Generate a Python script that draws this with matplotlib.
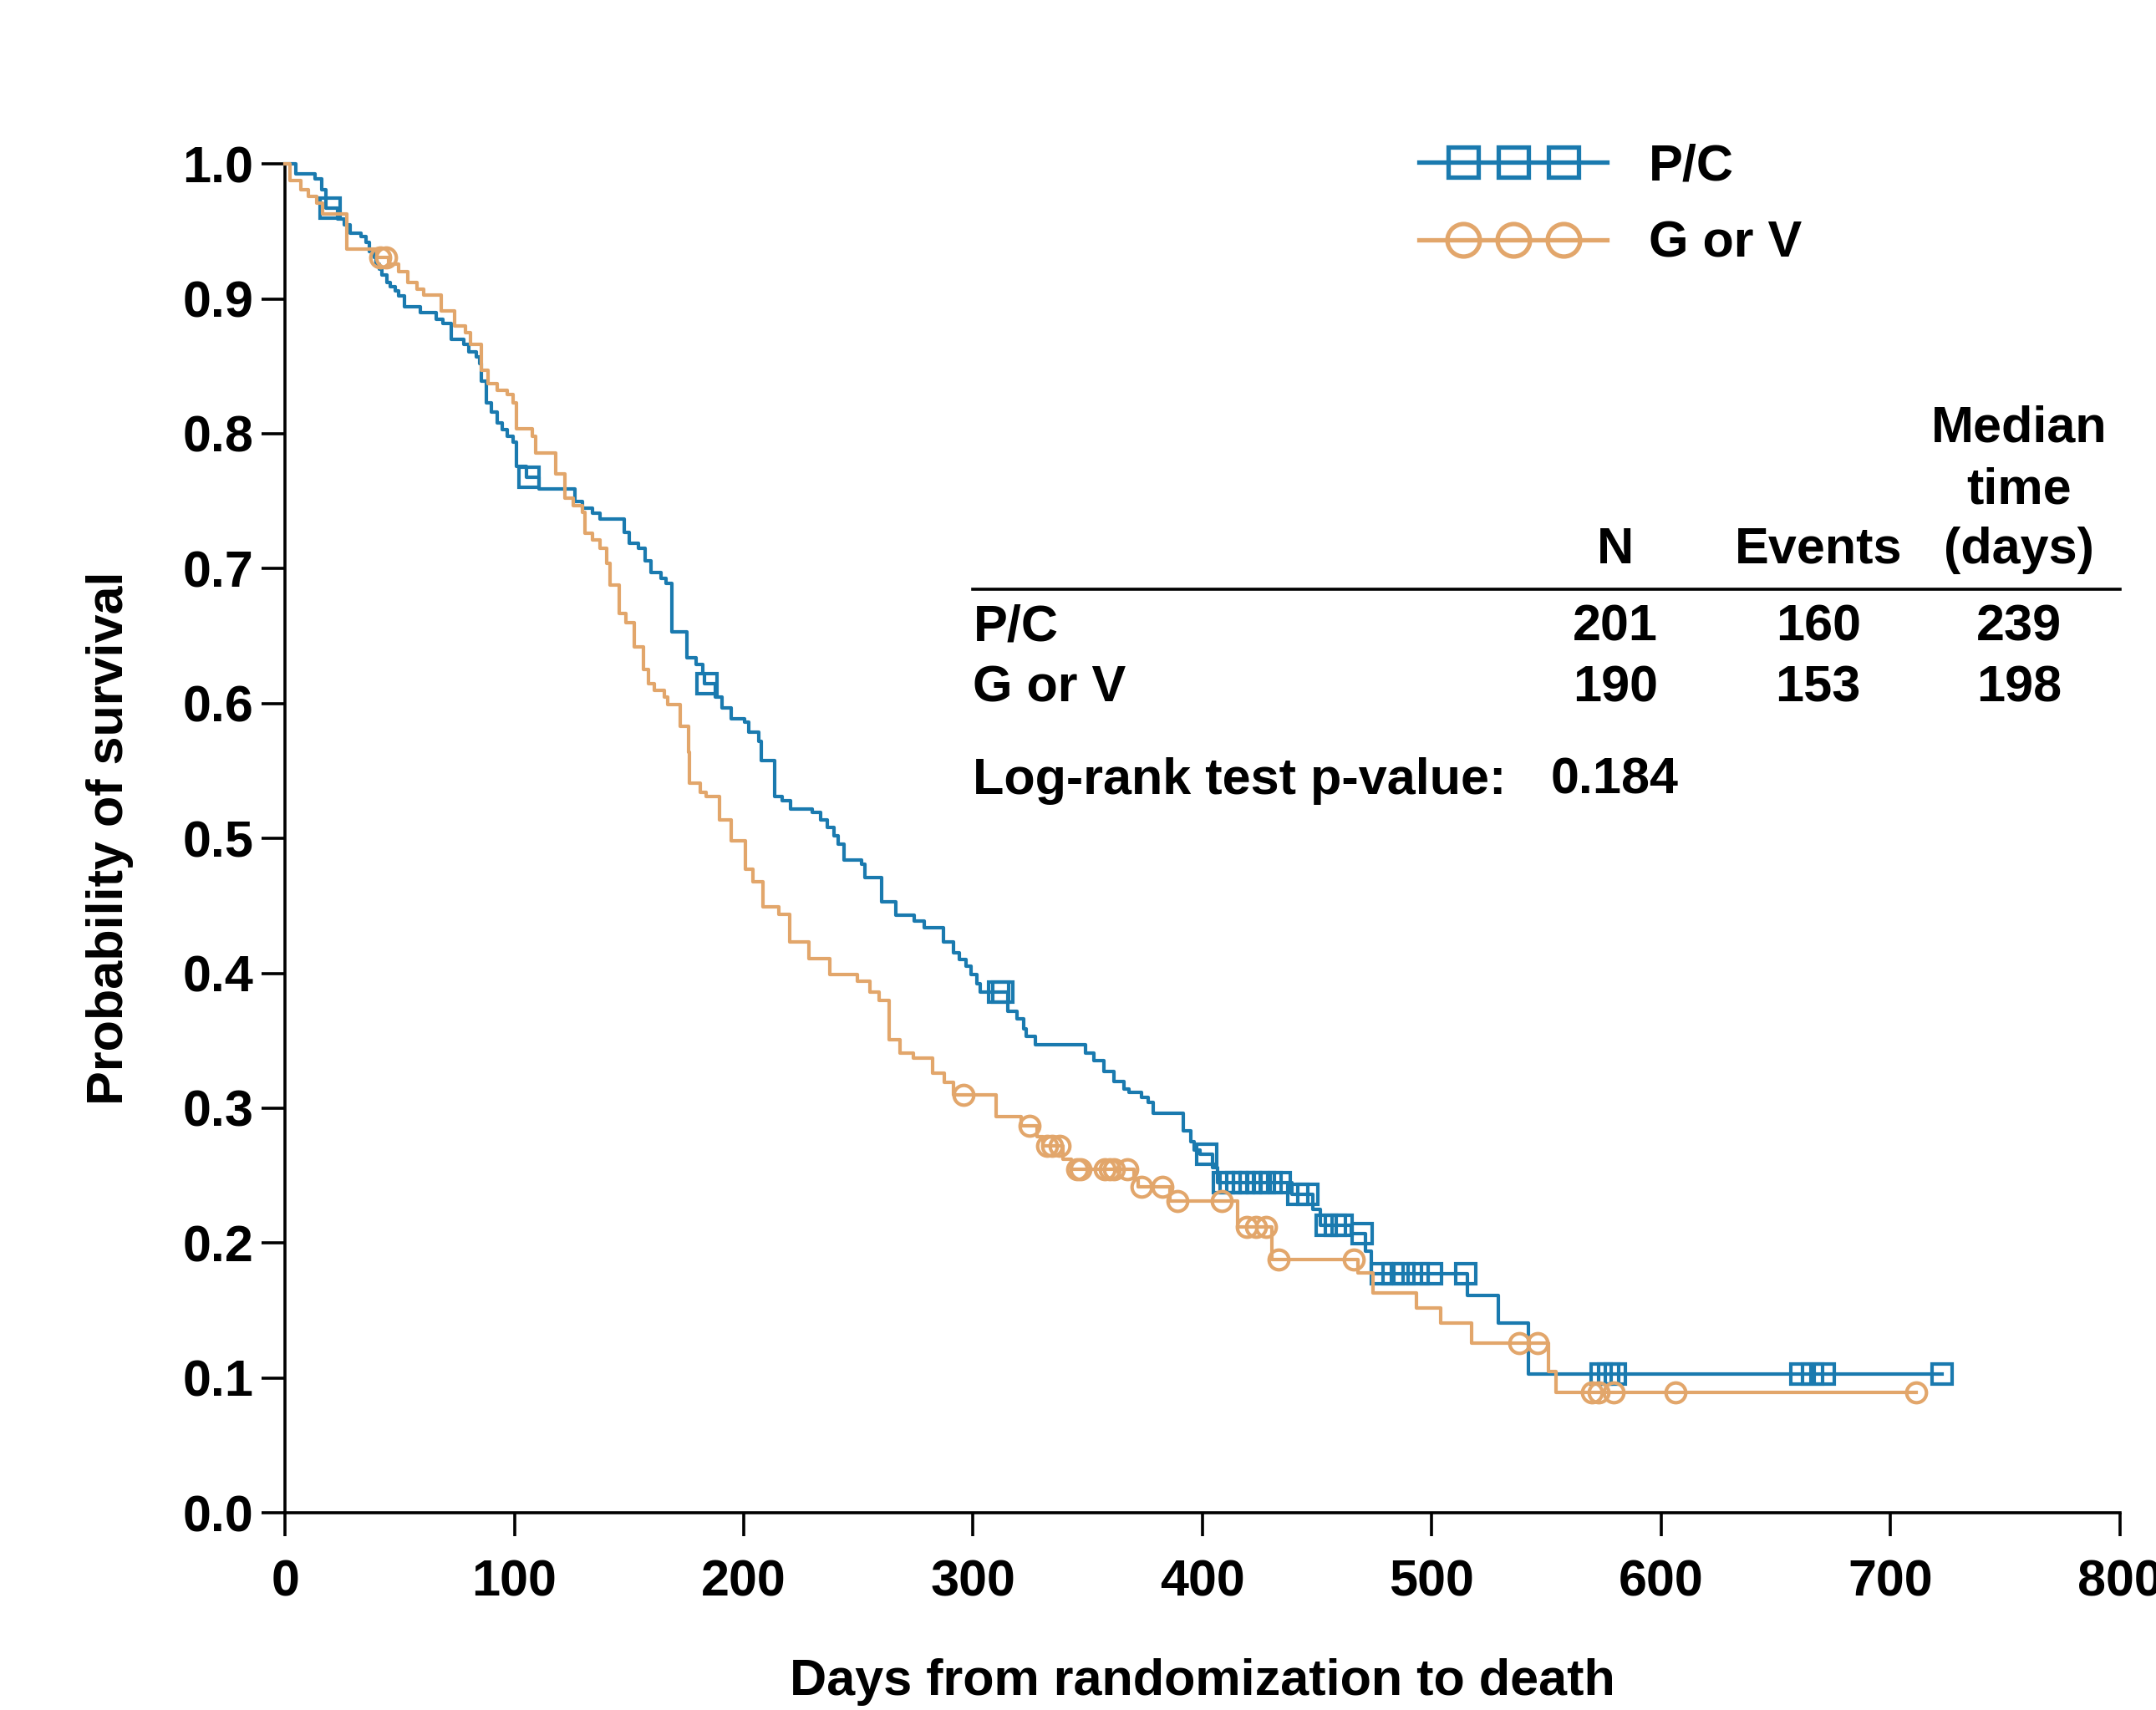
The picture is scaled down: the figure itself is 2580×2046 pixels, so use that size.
import numpy as np
import matplotlib
matplotlib.use('Agg')
import matplotlib.pyplot as plt
from matplotlib.lines import Line2D
from matplotlib.legend_handler import HandlerLine2D, HandlerTuple

plt.rcParams['font.family'] = ['Liberation Sans', 'DejaVu Sans']
plt.rcParams['font.weight'] = 'bold'

# Kaplan-Meier steps (days, survival)
pc_t = [0, 4.7, 13.1, 16, 18, 23, 25.7, 28.5, 33.3, 35.4, 36.8, 38.9, 39.6, 41, 42.4,
        44.5, 45.9, 48, 49.4, 52.2, 59.1, 66.1, 68.9, 72.4, 77.9, 80, 83.5, 84.9, 85.6,
        87.7, 89.8, 92.6, 94.7, 96.8, 99.6, 101, 105.2, 110.7, 126.5, 129.8, 134, 137.4,
        148, 150, 154.2, 157, 159.7, 163.9, 166, 168.5, 175.1, 179.3, 182.1, 183, 187.6,
        190.4, 194.6, 200.2, 202.3, 206.4, 207.8, 213.6, 216.9, 220.5, 230, 233.6, 236.4,
        239.5, 241.1, 243.9, 251.5, 253, 260, 266.2, 274.5, 278.7, 287.1, 291.3, 294.1,
        296.9, 299, 301.7, 303, 315, 319.2, 322, 323.3, 327, 349, 352.6, 357, 361.5,
        365.7, 368, 373.5, 376.3, 378.5, 391.5, 395, 396.4, 399, 404.6, 406.5, 439, 448,
        451.3, 465, 471, 473.6, 515.5, 529.2, 542, 722.5]
pc_s = [1.0, 0.993, 0.989, 0.981, 0.967, 0.959, 0.955, 0.949, 0.946, 0.942, 0.935, 0.931,
        0.926, 0.922, 0.918, 0.912, 0.909, 0.906, 0.902, 0.894, 0.890, 0.885, 0.882, 0.870,
        0.866, 0.861, 0.857, 0.852, 0.839, 0.823, 0.816, 0.808, 0.803, 0.798, 0.794, 0.776,
        0.768, 0.759, 0.750, 0.745, 0.741, 0.737, 0.727, 0.719, 0.715, 0.706, 0.697, 0.693,
        0.689, 0.653, 0.634, 0.629, 0.622, 0.615, 0.605, 0.597, 0.589, 0.586, 0.579, 0.572,
        0.558, 0.531, 0.528, 0.522, 0.519, 0.514, 0.508, 0.502, 0.496, 0.484, 0.481, 0.471,
        0.453, 0.443, 0.439, 0.434, 0.423, 0.415, 0.410, 0.405, 0.399, 0.392, 0.386, 0.372,
        0.366, 0.359, 0.353, 0.347, 0.341, 0.335, 0.327, 0.320, 0.314, 0.312, 0.308, 0.304,
        0.296, 0.283, 0.275, 0.269, 0.266, 0.256, 0.245, 0.236, 0.225, 0.213, 0.207, 0.194,
        0.177, 0.161, 0.141, 0.103, 0.103]
pc_cens = [19.5, 106.5, 184, 311, 313, 402, 409, 412, 415, 418, 421, 424, 427, 430, 434,
           441.5, 446, 454, 458, 461, 469.5, 478, 483, 488, 494, 500, 515, 574, 577, 580,
           661, 666, 671, 722.5]

gv_t = [0, 2, 6.8, 10.3, 13.8, 16.5, 27, 40, 45, 49.4, 53.6, 57.7, 60.5, 68.2, 73.8, 78.7,
        81, 85.6, 88.4, 92.6, 96.8, 99.6, 101, 108, 109.3, 117.9, 122, 125.6, 129.8, 130.8,
        134, 137.4, 140.2, 141.6, 145.8, 148.6, 152.1, 156.3, 158.4, 161.1, 165.3, 166.7,
        172.3, 175.8, 176.5, 180.9, 183.5, 189.6, 194.4, 200.7, 204.1, 208.3, 215.3, 220.2,
        228.5, 237.6, 249.5, 255, 259.2, 263.4, 268.3, 273.8, 282.2, 287.4, 291.5, 310, 321,
        328, 330.5, 339.2, 343, 370, 372, 386, 415.5, 430.4, 468, 474.3, 493.5, 503.9,
        517.5, 551, 554, 711.1]
gv_s = [1.0, 0.988, 0.981, 0.976, 0.971, 0.963, 0.937, 0.931, 0.926, 0.920, 0.912, 0.907,
        0.903, 0.891, 0.880, 0.875, 0.866, 0.847, 0.837, 0.832, 0.829, 0.823, 0.804, 0.798,
        0.786, 0.770, 0.752, 0.747, 0.742, 0.726, 0.721, 0.715, 0.704, 0.688, 0.667, 0.660,
        0.642, 0.625, 0.615, 0.610, 0.605, 0.599, 0.583, 0.564, 0.541, 0.534, 0.531, 0.514,
        0.498, 0.477, 0.468, 0.449, 0.444, 0.423, 0.411, 0.399, 0.394, 0.386, 0.380, 0.351,
        0.341, 0.337, 0.326, 0.319, 0.310, 0.294, 0.287, 0.279, 0.272, 0.262, 0.255, 0.248,
        0.242, 0.231, 0.212, 0.188, 0.178, 0.163, 0.152, 0.141, 0.126, 0.105, 0.089, 0.089]
gv_cens = [41.5, 44, 296, 324.6, 332.3, 334.5, 337.8, 345.5, 347, 357.4, 359.5, 361.4,
           367.1, 373.5, 382.5, 389, 408.5, 419.3, 423.4, 427.6, 433.2, 466, 538, 546,
           569.7, 572.7, 579.5, 606.2, 711.1]

groups = ['P/C', 'G or V']
n_pat = [201, 190]
n_events = [160, 153]
median_days = [239, 198]
p_value = '0.184'

blue = '#1a7aaf'
orange = '#e2a66b'


def cens_y(t, s, c):
    t = np.asarray(t)
    s = np.asarray(s)
    return s[np.searchsorted(t, c, side='right') - 1]


fig = plt.figure(figsize=(12.9, 10.23), dpi=200)
ax = fig.add_axes([0.1322, 0.1153, 0.851, 0.7888])

for t, s, cens, col, mk, ms in [(pc_t, pc_s, pc_cens, blue, 's', 8.3),
                                 (gv_t, gv_s, gv_cens, orange, 'o', 8.5)]:
    ax.step(t, s, where='post', color=col, lw=1.5, clip_on=False, zorder=3)
    ax.plot(cens, cens_y(t, s, cens), ls='none', marker=mk, ms=ms, mfc='none',
            mec=col, mew=1.5, clip_on=False, zorder=3)

ax.set_xlim(0, 800)
ax.set_ylim(0, 1.0)
ax.set_xticks(np.arange(0, 801, 100))
ax.set_yticks(np.arange(0, 1.01, 0.1))
ax.set_yticklabels([f'{v:.1f}' for v in np.arange(0, 1.01, 0.1)])
for side in ['top', 'right']:
    ax.spines[side].set_visible(False)
for side in ['left', 'bottom']:
    ax.spines[side].set_linewidth(1.3)
ax.tick_params(axis='both', length=10, width=1.3, labelsize=22)
ax.tick_params(axis='x', pad=10)
ax.tick_params(axis='y', pad=3.5)
ax.set_xlabel('Days from randomization to death', fontsize=22, fontweight='bold', labelpad=22)
ax.set_ylabel('Probability of survival', fontsize=22, fontweight='bold', labelpad=21)

# legend: full-width line with three hollow markers on it
handles = []
hmap = {}
for col, mk, ms in [(blue, 's', 13), (orange, 'o', 14)]:
    ln = Line2D([], [], color=col, lw=1.9)
    mks = Line2D([], [], ls='none', marker=mk, ms=ms, mfc='none', mec=col, mew=1.9)
    hmap[ln] = HandlerLine2D(numpoints=1)
    hmap[mks] = HandlerLine2D(numpoints=3, marker_pad=0.86)
    handles.append((ln, mks))
hmap[tuple] = HandlerTuple(ndivide=1, pad=0)
ax.legend(handles, groups, loc='center left', bbox_to_anchor=(494.5 / 800, 0.969),
          frameon=False, fontsize=22, handlelength=3.68, handletextpad=0.82,
          labelspacing=0.58, borderpad=0, borderaxespad=0, handler_map=hmap)

# summary table
fs = 22
col_x = [580, 668.5, 756]
ax.text(col_x[2], 0.794, 'Median', ha='center', va='baseline', fontsize=fs)
ax.text(col_x[2], 0.7484, 'time', ha='center', va='baseline', fontsize=fs)
for x, lab in zip(col_x, ['N', 'Events', '(days)']):
    ax.text(x, 0.7041, lab, ha='center', va='baseline', fontsize=fs)
ax.axhline(0.685, xmin=300 / 800, xmax=1.0, color='black', lw=1.3, clip_on=False)
for y, g, n, e, m in zip([0.6467, 0.6012], groups, n_pat, n_events, median_days):
    ax.text(300, y, g, ha='left', va='baseline', fontsize=fs)
    for x, v in zip(col_x, [n, e, m]):
        ax.text(x, y, str(v), ha='center', va='baseline', fontsize=fs)
ax.text(300, 0.533, 'Log-rank test p-value:', ha='left', va='baseline', fontsize=fs)
ax.text(552, 0.533, p_value, ha='left', va='baseline', fontsize=fs)

fig.savefig('out.png', dpi=200)
